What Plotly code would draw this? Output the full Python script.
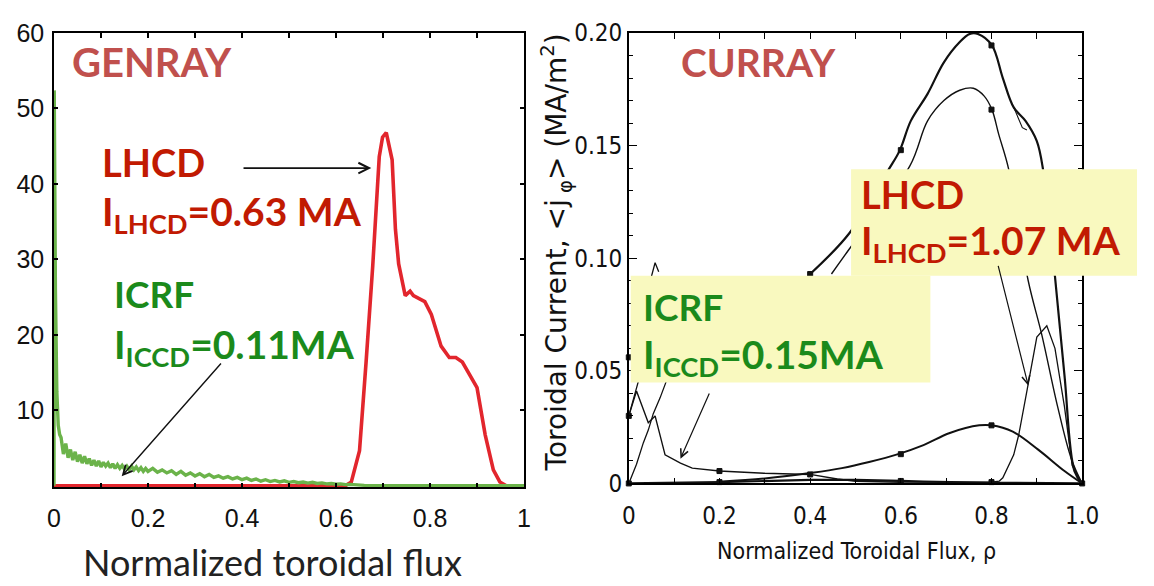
import plotly.graph_objects as go

W, H = 1154, 586

# ---------------- GENRAY panel data ----------------
genray_rho_lh = [0.0, 0.62, 0.6326, 0.65, 0.664, 0.678, 0.692, 0.699, 0.7069, 0.7194, 0.7264,
                 0.7333, 0.7472, 0.7576, 0.7646, 0.7889, 0.8028, 0.8236, 0.841, 0.8549,
                 0.8688, 0.8826, 0.9, 0.9174, 0.9347, 0.9486, 0.9625, 1.0]
genray_j_lh = [0.0, 0.0, 0.5, 4.65, 16.4, 29.0, 43.6, 46.2, 46.8, 43.2, 34.0,
               29.4, 25.2, 25.8, 25.2, 24.4, 22.7, 18.5, 17.0, 17.0,
               16.4, 14.9, 13.0, 6.75, 2.1, 0.5, 0.0, 0.0]

genray_rho_ic = [0.0, 0.0005, 0.003, 0.006, 0.009, 0.012, 0.015, 0.020, 0.025, 0.030, 0.035,
                 0.040, 0.045, 0.050, 0.055, 0.060, 0.065, 0.070, 0.075, 0.080, 0.085,
                 0.090, 0.095, 0.100, 0.105, 0.110, 0.115, 0.120, 0.125, 0.130, 0.135,
                 0.140, 0.145, 0.150, 0.155, 0.160, 0.165, 0.170, 0.175, 0.180, 0.185,
                 0.190, 0.195, 0.200, 0.21, 0.22, 0.23, 0.24, 0.25, 0.26, 0.27, 0.28,
                 0.29, 0.30, 0.31, 0.32, 0.33, 0.34, 0.35, 0.36, 0.37, 0.38, 0.39, 0.40,
                 0.41, 0.42, 0.43, 0.44, 0.45, 0.46, 0.47, 0.48, 0.49, 0.50, 0.51, 0.52,
                 0.53, 0.54, 0.55, 0.56, 0.57, 0.58, 0.59, 0.60, 0.61, 0.62, 0.63, 0.64,
                 0.65, 0.66, 0.68, 1.0]
genray_j_ic = [0.0, 52.4, 26.0, 12.5, 8.0, 6.8, 6.4, 4.2, 5.6, 3.7, 4.8,
               3.4, 4.5, 3.2, 4.1, 3.0, 3.9, 2.9, 3.6, 2.7, 3.4,
               2.6, 3.3, 2.5, 3.1, 2.6, 3.0, 2.4, 2.9, 2.3, 2.8,
               2.3, 2.7, 2.2, 2.6, 2.1, 2.6, 2.1, 2.5, 2.0, 2.4,
               1.9, 2.3, 1.9, 2.3, 1.8, 2.1, 1.7, 2.0, 1.5, 1.9, 1.4,
               1.7, 1.3, 1.6, 1.2, 1.5, 1.1, 1.3, 1.0, 1.2, 0.9, 1.1, 0.8,
               1.0, 0.7, 0.9, 0.6, 0.8, 0.55, 0.7, 0.5, 0.65, 0.45, 0.55, 0.4,
               0.5, 0.35, 0.45, 0.3, 0.38, 0.25, 0.3, 0.2, 0.25, 0.15, 0.18, 0.1,
               0.1, 0.05, 0.0, 0.0]

genray_xticks = [0, 0.2, 0.4, 0.6, 0.8, 1.0]
genray_xtext = ["0", "0.2", "0.4", "0.6", "0.8", "1"]
genray_yticks = [10, 20, 30, 40, 50, 60]
genray_ytext = ["10", "20", "30", "40", "50", "60"]

# ---------------- CURRAY panel data ----------------
# total LH current density (upper curve)
lh_tot_rho = [0.4, 0.486, 0.572, 0.598, 0.622, 0.659, 0.695, 0.73, 0.752, 0.77, 0.801,
              0.825, 0.849, 0.875, 0.90, 0.914, 0.94, 0.961, 0.983, 1.0]
lh_tot_j = [0.093, 0.111, 0.139, 0.148, 0.161, 0.173, 0.187, 0.196, 0.1996, 0.1996, 0.1945,
            0.180, 0.167, 0.161, 0.152, 0.139, 0.092, 0.048, 0.0055, 0.0]
# companion LH curve splitting briefly near rho ~ 0.86
lh_alt_rho = [0.849, 0.858, 0.868, 0.878]
lh_alt_j = [0.167, 0.163, 0.158, 0.157]
# lower LH curve
lh_low_rho = [0.447, 0.486, 0.62, 0.659, 0.695, 0.73, 0.76, 0.784, 0.801, 0.816, 0.838,
              0.881, 0.911, 0.946, 0.976, 1.0]
lh_low_j = [0.093, 0.104, 0.141, 0.161, 0.170, 0.1746, 0.1755, 0.172, 0.166, 0.155, 0.1395,
            0.090, 0.066, 0.034, 0.011, 0.0]
# edge-localized curve
edge_rho = [0.6, 0.8, 0.817, 0.825, 0.849, 0.86, 0.879, 0.90, 0.922, 0.94, 0.961, 0.978, 1.0]
edge_j = [0.0006, 0.0006, 0.001, 0.0025, 0.0127, 0.0215, 0.042, 0.065, 0.070, 0.060, 0.034, 0.008, 0.0]
# broad IC curve peaking near rho ~ 0.8
ic_broad_rho = [0.2, 0.3, 0.404, 0.47, 0.53, 0.594, 0.65, 0.708, 0.773, 0.80, 0.847, 0.903, 0.961, 1.0]
ic_broad_j = [0.0008, 0.0022, 0.0047, 0.0068, 0.0095, 0.013, 0.017, 0.0224, 0.0258, 0.0258, 0.023, 0.015, 0.0055, 0.0]
# core IC curve
ic_core_rho = [0.0, 0.017, 0.043, 0.058, 0.08, 0.114, 0.14, 0.2, 0.3, 0.4, 0.46, 0.5, 0.6]
ic_core_j = [0.030, 0.041, 0.027, 0.030, 0.0127, 0.009, 0.0068, 0.0055, 0.0045, 0.0040, 0.002, 0.001, 0.0005]
# rising curve from the axis
ax_rise_rho = [0.0, 0.017, 0.032, 0.043, 0.054, 0.069, 0.082, 0.10]
ax_rise_j = [0.0, 0.0085, 0.018, 0.0237, 0.031, 0.038, 0.045, 0.055]
# steep curve near the axis
ax_steep_rho = [0.0, 0.011, 0.022, 0.04, 0.05, 0.058, 0.066]
ax_steep_j = [0.030, 0.038, 0.046, 0.075, 0.092, 0.098, 0.094]
# near-zero curve along the baseline
base_rho = [0.0, 0.2, 0.4, 0.5, 0.6, 0.65, 0.8, 1.0]
base_j = [0.0, 0.0006, 0.0016, 0.0016, 0.0011, 0.0008, 0.0003, 0.0]

# curve markers
mark_rho = [0.4, 0.6, 0.8, 0.8, 0.6, 0.8, 0.2, 0.4, 0.0, 0.0, 0.0, 0.2, 0.6, 0.8, 1.0]
mark_j = [0.093, 0.148, 0.1945, 0.166, 0.013, 0.0258, 0.0055, 0.0040, 0.030, 0.056, 0.0, 0.0006, 0.0011, 0.0006, 0.0]

curray_xticks = [0, 0.2, 0.4, 0.6, 0.8, 1.0]
curray_xtext = ["0", "0.2", "0.4", "0.6", "0.8", "1.0"]
curray_yticks = [0, 0.05, 0.10, 0.15, 0.20]
curray_ytext = ["0", "0.05", "0.10", "0.15", "0.20"]

RED_LABEL = "#c11a02"
GREEN_LABEL = "#1b8a1b"
TITLE_RED = "#c0504d"
YELLOW = "#f9f9bf"
INK = "#111111"
NARROW = "DejaVu Sans Condensed, Liberation Sans"


def px(x):
    return x / W


def py(y):
    return 1 - y / H


fig = go.Figure()

fig.add_trace(go.Scatter(x=genray_rho_lh, y=genray_j_lh, mode="lines",
                         line=dict(color="#e2262d", width=3.6), xaxis="x", yaxis="y"))
fig.add_trace(go.Scatter(x=genray_rho_ic, y=genray_j_ic, mode="lines",
                         line=dict(color="#6bb34a", width=3.4), xaxis="x", yaxis="y"))

for rx, jy, lw, shape in [(base_rho, base_j, 2.2, "linear"), (ic_core_rho, ic_core_j, 1.4, "linear"),
                          (ax_rise_rho, ax_rise_j, 1.3, "linear"), (ax_steep_rho, ax_steep_j, 1.3, "linear"),
                          (ic_broad_rho, ic_broad_j, 2.0, "spline"), (edge_rho, edge_j, 1.3, "linear"),
                          (lh_low_rho, lh_low_j, 1.4, "spline"), (lh_alt_rho, lh_alt_j, 1.1, "linear"),
                          (lh_tot_rho, lh_tot_j, 2.2, "spline")]:
    fig.add_trace(go.Scatter(x=rx, y=jy, mode="lines", line=dict(color=INK, width=lw, shape=shape),
                             xaxis="x2", yaxis="y2"))
fig.add_trace(go.Scatter(x=mark_rho, y=mark_j, mode="markers",
                         marker=dict(symbol="square", size=5, color=INK, line=dict(color=INK, width=1)),
                         cliponaxis=False, xaxis="x2", yaxis="y2"))

axis_common = dict(showline=True, linecolor="black", linewidth=1.5, mirror="ticks",
                   ticks="inside", tickcolor="black", showgrid=False, zeroline=False)

fig.update_layout(
    width=W, height=H, margin=dict(l=0, r=0, t=0, b=0),
    paper_bgcolor="white", plot_bgcolor="white", showlegend=False,
    xaxis=dict(domain=[px(48), px(528)], range=[0, 1], anchor="y",
               tickvals=genray_xticks, ticktext=genray_xtext, ticklen=5, tickwidth=1.5,
               ticklabelstandoff=8,
               minor=dict(tickvals=[0.1, 0.3, 0.5, 0.7, 0.9], ticks="inside", ticklen=5,
                          tickwidth=1.5, tickcolor="black"),
               tickfont=dict(family="Liberation Sans", size=25, color=INK), **axis_common),
    yaxis=dict(domain=[py(497), py(20)], range=[-0.2, 60], anchor="x",
               tickvals=genray_yticks, ticktext=genray_ytext, ticklen=4, tickwidth=1.5,
               ticklabelstandoff=3,
               tickfont=dict(family="Liberation Sans", size=25, color=INK), **axis_common),
    xaxis2=dict(domain=[px(635), px(1098)], range=[0, 1], anchor="y2",
                tickvals=curray_xticks, ticktext=curray_xtext, ticklen=6, tickwidth=1.2,
                ticklabelstandoff=10,
                minor=dict(tickvals=[0.1, 0.3, 0.5, 0.7, 0.9], ticks="inside", ticklen=6,
                           tickwidth=1.2, tickcolor="black"),
                tickfont=dict(family=NARROW, size=24, color=INK), **axis_common),
    yaxis2=dict(domain=[py(493), py(20)], range=[0, 0.2], anchor="x2",
                tickvals=curray_yticks, ticktext=curray_ytext, ticklen=8, tickwidth=1.2,
                minor=dict(dtick=0.01, ticks="inside", ticklen=4, tickwidth=1, tickcolor="black"),
                tickfont=dict(family=NARROW, size=24, color=INK), **axis_common),
)

# yellow label panels on the CURRAY plot
fig.add_shape(type="rect", xref="paper", yref="paper", x0=px(637), x1=px(943), y0=py(387), y1=py(275),
              fillcolor=YELLOW, line=dict(width=0), layer="above")
fig.add_shape(type="rect", xref="paper", yref="paper", x0=px(862), x1=px(1154), y0=py(275), y1=py(163),
              fillcolor=YELLOW, line=dict(width=0), layer="above")


def label(text, x, y, color, size=37, family="Lato"):
    fig.add_annotation(text=text, xref="paper", yref="paper", x=px(x), y=py(y),
                       xanchor="left", yanchor="middle", showarrow=False,
                       font=dict(family=family, size=size, color=color, weight="bold"))


label("GENRAY", 64, 50, TITLE_RED, 40)
label("CURRAY", 686, 50, TITLE_RED, 39)
label("LHCD", 95, 155, RED_LABEL, 38)
label("I<sub>LHCD</sub>=0.63 MA", 95, 210, RED_LABEL, 39)
label("ICRF", 107, 293, GREEN_LABEL, 37)
label("I<sub>ICCD</sub>=0.11MA", 107, 350, GREEN_LABEL, 39)
label("LHCD", 870, 189, RED_LABEL, 38)
label("I<sub>LHCD</sub>=1.07 MA", 870, 241, RED_LABEL, 39)
label("ICRF", 647, 307, GREEN_LABEL, 37)
label("I<sub>ICCD</sub>=0.15MA", 647, 360, GREEN_LABEL, 39)

# arrows pointing at the curves
for (x0, y0, x1, y1, xr, yr, w) in [(0.4, 42.1, 0.675, 42.1, "x", "y", 1.6),
                                     (0.358, 16.4, 0.144, 1.26, "x", "y", 1.4),
                                     (0.179, 0.0406, 0.114, 0.011, "x2", "y2", 1.2),
                                     (0.814, 0.0973, 0.881, 0.0435, "x2", "y2", 1.2)]:
    fig.add_annotation(x=x1, y=y1, ax=x0, ay=y0, xref=xr, yref=yr, axref=xr, ayref=yr,
                       text="", showarrow=True, arrowhead=5, arrowsize=1.3, arrowwidth=w,
                       arrowcolor=INK)

# axis titles
fig.add_annotation(text="Normalized toroidal flux", xref="paper", yref="paper", x=px(271), y=py(576),
                   xanchor="center", yanchor="middle", showarrow=False,
                   font=dict(family="Lato", size=36, color="#222222"))
fig.add_annotation(text="Normalized Toroidal Flux, ρ", xref="paper", yref="paper", x=px(868), y=py(564),
                   xanchor="center", yanchor="middle", showarrow=False,
                   font=dict(family=NARROW, size=23, color=INK))
fig.add_annotation(text="Toroidal Current, &lt;j<sub> φ</sub>&gt; (MA/m<sup>2</sup>)", xref="paper",
                   yref="paper", x=px(561), y=py(250), xanchor="center", yanchor="middle",
                   textangle=-90, showarrow=False,
                   font=dict(family="DejaVu Sans", size=28, color=INK))

fig.write_html("out.html")
